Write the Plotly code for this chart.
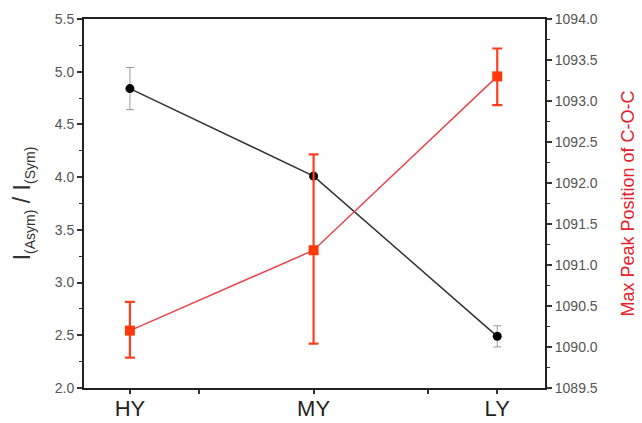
import plotly.graph_objects as go

categories = ["HY", "MY", "LY"]
ratio_values = [4.84, 4.01, 2.49]
ratio_err = [0.20, 0.02, 0.10]
peak_values = [1090.20, 1091.18, 1093.30]
peak_err_plus = [0.35, 1.17, 0.34]
peak_err_minus = [0.33, 1.14, 0.35]
x_minor_ticks = [1.375, 2.625]

xs = [i + 1 for i in range(len(categories))]

fig = go.Figure()
fig.add_trace(go.Scatter(
    x=xs, y=ratio_values, mode="lines+markers",
    line=dict(color="#333333", width=1.5),
    marker=dict(symbol="circle", size=9, color="#000000"),
    error_y=dict(type="data", array=ratio_err, color="#9a9a9a", thickness=1, width=4),
    showlegend=False, yaxis="y"))
fig.add_trace(go.Scatter(
    x=xs, y=peak_values, mode="lines+markers",
    line=dict(color="#e8464e", width=1.5),
    marker=dict(symbol="square", size=10, color="#ff3a0a"),
    error_y=dict(type="data", array=peak_err_plus, arrayminus=peak_err_minus,
                 color="#ff4020", thickness=2.2, width=5),
    showlegend=False, yaxis="y2"))

tickfont = dict(family="Liberation Sans, Arial", size=14, color="#555555")
fig.update_layout(
    width=642, height=423,
    margin=dict(l=76, r=105, t=11, b=43),
    paper_bgcolor="white", plot_bgcolor="white",
    xaxis=dict(range=[0.75, 3.26], tickvals=xs, ticktext=categories, automargin=False,
               ticks="",
               minor=dict(tickvals=xs + x_minor_ticks, ticks="outside", ticklen=4,
                          tickcolor="#333", tickwidth=1.5),
               showline=True, linecolor="#222", linewidth=2, mirror=True,
               showgrid=False, zeroline=False,
               tickfont=dict(family="Liberation Sans, Arial", size=22, color="#222")),
    yaxis=dict(range=[2.0, 5.5], dtick=0.5, tickformat=".1f", automargin=False,
               ticks="outside", ticklen=5, tickcolor="#333", tickwidth=1.5,
               minor=dict(dtick=0.25, ticks="outside", ticklen=3, tickcolor="#333", tickwidth=1.2),
               showline=True, linecolor="#222", linewidth=2,
               showgrid=False, zeroline=False, tickfont=tickfont,
               title=dict(text="I<sub><span style='font-size:14px'>(Asym)</span></sub> / I<sub><span style='font-size:14px'>(Sym)</span></sub>",
                          standoff=18,
                          font=dict(family="Liberation Sans, Arial", size=23, color="#333"))),
    yaxis2=dict(range=[1089.5, 1094.0], dtick=0.5, tickformat=".1f", overlaying="y", side="right",
                automargin=False,
                ticks="outside", ticklen=5, tickcolor="#333", tickwidth=1.5,
                minor=dict(dtick=0.25, ticks="outside", ticklen=3, tickcolor="#333", tickwidth=1.2),
                showline=True, linecolor="#222", linewidth=2,
                showgrid=False, zeroline=False, tickfont=tickfont,
                title=dict(text="Max Peak Position of C-O-C", standoff=25,
                           font=dict(family="Liberation Sans, Arial", size=18, color="#e8202a"))),
)

fig.write_html("out.html")
